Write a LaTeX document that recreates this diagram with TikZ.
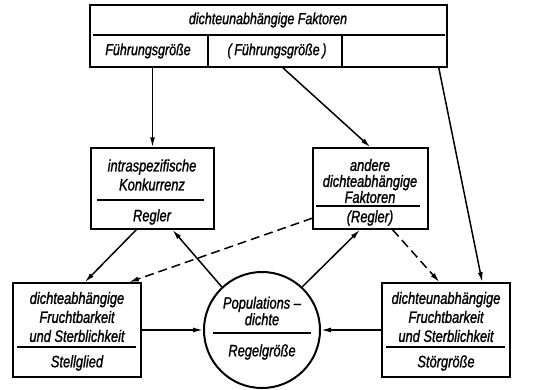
\documentclass[tikz,border=0pt]{standalone}
\usepackage{fontspec}
\setmainfont{Liberation Sans}[FakeStretch=0.78,FakeBold=1.2]
\usepackage{tikz}
\usetikzlibrary{arrows.meta,positioning,calc}

\begin{document}
\begin{tikzpicture}[
    x=1pt, y=-1pt,
    font=\fontsize{16.5}{19}\selectfont\itshape,
    box/.style={draw, line width=1.5pt, inner sep=0pt},
    lbl/.style={align=center, inner sep=0pt},
    sep/.style={line width=1.1pt},
    edge/.style={-{Latex[length=10pt,width=5pt]}, line width=1.5pt},
    dashedge/.style={edge, dash pattern=on 9pt off 5pt}
]
\useasboundingbox (0,0) rectangle (536,389);
% boxes
\node[box, minimum width=357pt, minimum height=62pt] (faktoren) at (268.5,36) {};
\node[box, minimum width=123pt, minimum height=81pt] (konkurrenz) at (152.5,188.5) {};
\node[box, minimum width=115pt, minimum height=81pt] (andere) at (370.5,188.5) {};
\node[box, minimum width=128pt, minimum height=94pt] (stellglied) at (77,330) {};
\node[box, minimum width=128pt, minimum height=94pt] (stoer) at (446,330) {};
\node[draw, circle, line width=2pt, minimum size=116pt, inner sep=0pt] (pop) at (262,330) {};
% texts
\node[lbl, font=\fontsize{16}{18}\selectfont\itshape] (faktorenT) at (268,20) {dichteunabhängige Faktoren};
\node[lbl, font=\fontsize{16}{18}\selectfont\itshape] (fuehrung) at (148,51) {Führungsgröße};
\node[lbl, font=\fontsize{16}{18}\selectfont\itshape] (fuehrungK) at (277,51) {(\,Führungsgröße\,)};
\node[lbl] (konkurrenzT) at (152,175) {intraspezifische\\Konkurrenz};
\node[lbl] (regler) at (152,217) {Regler};
\node[lbl, font=\fontsize{16.5}{16}\selectfont\itshape] (andereT) at (370,181) {andere\\dichteabhängige\\Faktoren};
\node[lbl] (reglerK) at (370,218) {(Regler)};
\node[lbl] (stellgliedT) at (77,317) {dichteabhängige\\Fruchtbarkeit\\und Sterblichkeit};
\node[lbl] (stellgliedL) at (77,363) {Stellglied};
\node[lbl, font=\fontsize{16.5}{16.5}\selectfont\itshape] (popT) at (262,311) {Populations –\\dichte};
\node[lbl] (popL) at (262,352) {Regelgröße};
\node[lbl] (stoerT) at (446,317) {dichteunabhängige\\Fruchtbarkeit\\und Sterblichkeit};
\node[lbl] (stoerL) at (446,363) {Störgröße};
% dividers
\draw[sep] (93,35) -- (445,35);
\draw[sep] (208,35) -- ({208,35} |- faktoren.south);
\draw[sep] (342,35) -- ({342,35} |- faktoren.south);
\draw[sep] (97,200) -- (204,200);
\draw[sep] (316,206) -- (420,206);
\draw[sep] (17,347) -- (136,347);
\draw[sep] (386,347) -- (505,347);
\draw[sep] (213,333) -- (311,333);
% arrows
\draw[edge] (konkurrenz.north |- faktoren.south) -- (konkurrenz.north);
\draw[edge] ($(faktoren.south west)!.54!(faktoren.south east)$) -- (andere.north);
\draw[edge] ($(faktoren.south west)!.975!(faktoren.south east)$) -- ($(stoer.north west)!.78!(stoer.north east)$);
\draw[edge] ($(konkurrenz.south west)!.37!(konkurrenz.south east)$) -- ($(stellglied.north west)!.56!(stellglied.north east)$);
\draw[edge] (pop.133) -- ($(konkurrenz.south west)!.66!(konkurrenz.south east)$);
\draw[dashedge] ($(andere.south west)!.14!(andere.north west)$) -- ($(stellglied.north west)!.9!(stellglied.north east)$);
\draw[edge] (pop.47) -- ($(andere.south west)!.41!(andere.south east)$);
\draw[dashedge] ($(andere.south west)!.69!(andere.south east)$) -- ($(stoer.north west)!.45!(stoer.north east)$);
\draw[edge] (stellglied.east) -- (pop.west);
\draw[edge] (stoer.west) -- (pop.east);
\end{tikzpicture}
\end{document}
